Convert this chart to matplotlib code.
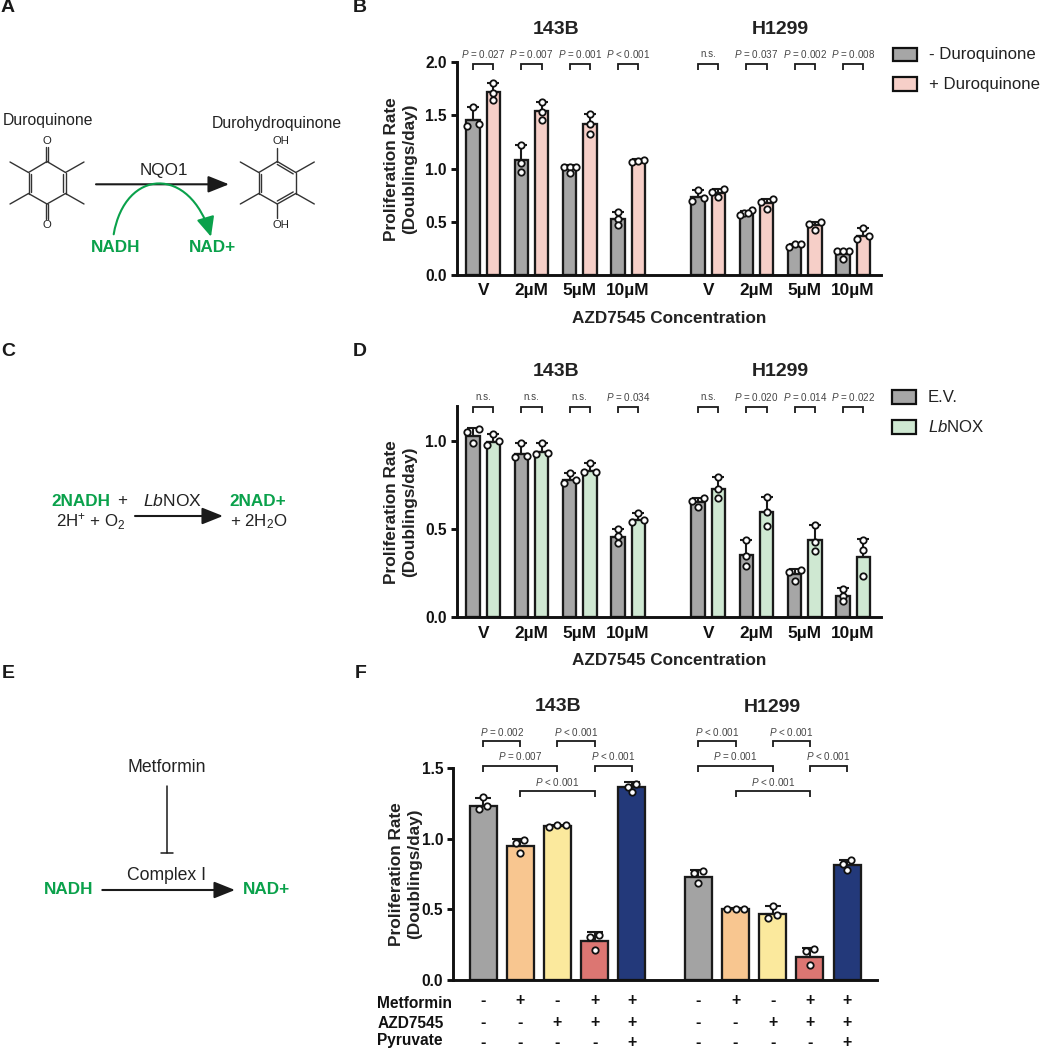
import numpy as np
import matplotlib
matplotlib.use("Agg")
import matplotlib.pyplot as plt
from matplotlib.patches import Rectangle, FancyArrowPatch
from matplotlib.path import Path

plt.rcParams['font.family'] = ['Liberation Sans', 'DejaVu Sans']
plt.rcParams['mathtext.fontset'] = 'custom'
plt.rcParams['mathtext.rm'] = 'Liberation Sans'
plt.rcParams['mathtext.it'] = 'Liberation Sans:italic'
plt.rcParams['mathtext.bf'] = 'Liberation Sans:bold'

W, H = 1041, 1050

# Panel B - duroquinone, bars go minus/plus for each dose
conc_labels = ["V", "2µM", "5µM", "10µM"]
b_143b_means = [1.46, 1.72, 1.08, 1.54, 1.02, 1.42, 0.53, 1.07]
b_143b_tops = [1.58, 1.81, 1.22, 1.63, 1.03, 1.51, 0.59, 1.09]
b_143b_points = [[1.40, 1.42, 1.58], [1.81, 1.71, 1.65], [1.22, 1.05, 0.97], [1.63, 1.53, 1.46],
                  [1.02, 1.02, 1.02, 0.955], [1.51, 1.42, 1.33], [0.59, 0.53, 0.47], [1.06, 1.08, 1.07]]
b_h1299_means = [0.73, 0.77, 0.585, 0.68, 0.275, 0.47, 0.20, 0.37]
b_h1299_tops = [0.80, 0.81, 0.60, 0.71, 0.29, 0.50, 0.23, 0.44]
b_h1299_points = [[0.80, 0.70, 0.72], [0.81, 0.78, 0.73], [0.61, 0.585, 0.585, 0.565], [0.71, 0.69, 0.62],
                  [0.26, 0.29, 0.29], [0.50, 0.48, 0.42], [0.23, 0.225, 0.225, 0.15], [0.44, 0.34, 0.37]]
b_143b_p = ["P = 0.027", "P = 0.007", "P = 0.001", "P < 0.001"]
b_h1299_p = ["n.s.", "P = 0.037", "P = 0.002", "P = 0.008"]

# Panel D - LbNOX
d_143b_means = [1.03, 0.995, 0.93, 0.94, 0.78, 0.83, 0.455, 0.555]
d_143b_tops = [1.075, 1.04, 0.99, 0.99, 0.82, 0.875, 0.50, 0.595]
d_143b_points = [[1.07, 1.05, 0.99], [1.04, 0.98, 1.00], [0.99, 0.91, 0.915], [0.99, 0.935, 0.93],
                 [0.82, 0.765, 0.78], [0.875, 0.825, 0.825], [0.50, 0.46, 0.42], [0.595, 0.54, 0.55]]
d_h1299_means = [0.655, 0.73, 0.355, 0.60, 0.245, 0.44, 0.12, 0.345]
d_h1299_tops = [0.68, 0.795, 0.44, 0.685, 0.275, 0.525, 0.165, 0.445]
d_h1299_points = [[0.675, 0.66, 0.625], [0.795, 0.73, 0.675], [0.44, 0.35, 0.29], [0.685, 0.60, 0.52],
                  [0.27, 0.26, 0.205], [0.525, 0.43, 0.375], [0.16, 0.12, 0.09], [0.44, 0.38, 0.235]]
d_143b_p = ["n.s.", "n.s.", "n.s.", "P = 0.034"]
d_h1299_p = ["n.s.", "P = 0.020", "P = 0.014", "P = 0.022"]

# Panel F - metformin / AZD7545 / pyruvate
f_143b_means = [1.236, 0.95, 1.09, 0.277, 1.364]
f_143b_tops = [1.29, 1.00, 1.10, 0.338, 1.40]
f_143b_points = [[1.30, 1.21, 1.23], [0.993, 0.97, 0.90], [1.085, 1.10, 1.10], [0.32, 0.305, 0.21], [1.39, 1.37, 1.33]]
f_h1299_means = [0.733, 0.50, 0.47, 0.165, 0.813]
f_h1299_tops = [0.78, 0.51, 0.525, 0.23, 0.85]
f_h1299_points = [[0.77, 0.76, 0.69], [0.50, 0.505, 0.505], [0.525, 0.44, 0.46], [0.22, 0.205, 0.105], [0.85, 0.82, 0.78]]
f_143b_p = ["P = 0.002", "P < 0.001", "P = 0.007", "P < 0.001", "P < 0.001"]
f_h1299_p = ["P < 0.001", "P < 0.001", "P = 0.001", "P < 0.001", "P < 0.001"]
f_row_names = ["Metformin", "AZD7545", "Pyruvate"]
f_rows = [["-", "+", "-", "+", "+"], ["-", "-", "+", "+", "+"], ["-", "-", "-", "-", "+"]]

GREY = "#a6a6a6"
PINK = "#f6cfc8"
MINT = "#cfe8d2"
F_COLORS = ["#a3a3a3", "#f8c690", "#fbe99d", "#dc7672", "#23397a"]
EDGE = "#1a1a1a"
GREEN = "#0aa14b"
TXT = "#222222"

fig = plt.figure(figsize=(W / 100, H / 100), dpi=100)


# axes placed by pixel box, x data runs in pixels so bars line up with the brackets
def px_axes(left, right, top, bottom, ymax, yticks):
    ax = fig.add_axes([left / W, 1 - bottom / H, (right - left) / W, (bottom - top) / H])
    ax.set_xlim(left, right)
    ax.set_ylim(0, ymax)
    ax.patch.set_visible(False)
    for s in ["top", "right"]:
        ax.spines[s].set_visible(False)
    for s in ["left", "bottom"]:
        ax.spines[s].set_linewidth(2.1)
        ax.spines[s].set_color("#111111")
    ax.set_yticks(yticks)
    ax.set_yticklabels([f"{t:.1f}" for t in yticks], fontsize=11.2, fontweight="bold", color="#111111")
    ax.tick_params(axis="y", length=4.6, width=2.1, pad=2.5, color="#111111")
    ax.tick_params(axis="x", length=0, pad=6)
    ax.set_ylabel("Proliferation Rate\n(Doublings/day)", fontsize=12.4, fontweight="bold",
                  color="#222222", linespacing=1.28)
    return ax


# points close in height get spread sideways like the prism swarm
def swarm_offsets(values, px_per_unit, pair, spread):
    values = np.asarray(values)
    order = np.argsort(values)
    offs = np.zeros(len(values))
    groups = [[order[0]]]
    for i in order[1:]:
        if (values[i] - values[groups[-1][-1]]) * px_per_unit < 5:
            groups[-1].append(i)
        else:
            groups.append([i])
    for g in groups:
        if len(g) == 2:
            offs[g] = [-pair, pair]
        elif len(g) > 2:
            offs[g] = np.linspace(-spread, spread, len(g))
    return offs


def draw_bars(ax, xs, means, tops, points, colors, width, capsize, pair, spread):
    box = ax.get_position()
    px_per_unit = box.height * H / ax.get_ylim()[1]
    ax.bar(xs, means, width=width, color=colors, edgecolor=EDGE, linewidth=1.65, zorder=2)
    for x, m, t, pts in zip(xs, means, tops, points):
        ax.errorbar([x], [m], yerr=[[0], [max(t - m, 0)]], fmt="none", ecolor=EDGE,
                    elinewidth=1.5, capsize=capsize, capthick=1.5, zorder=3)
        ax.plot(x + swarm_offsets(pts, px_per_unit, pair, spread), pts, "o", ms=4.6, mfc="white",
                mec="#111111", mew=1.3, ls="none", zorder=4, clip_on=False)


def pair_x(start):
    step, gap = 48.3, 20.4
    return [start + i * step + k * gap for i in range(4) for k in range(2)]


over = fig.add_axes([0, 0, 1, 1], zorder=10)
over.set_xlim(0, W)
over.set_ylim(H, 0)
over.axis("off")


def label(x, y, s, size=11.3, color=TXT, weight="normal", ha="center", va="center", **kw):
    return over.text(x, y, s, fontsize=size, color=color, fontweight=weight, ha=ha, va=va, **kw)


def p_text(s):
    return s.replace("P", r"$\mathit{P}$") if s.startswith("P") else s


def bracket(x0, x1, y, text, text_y):
    over.plot([x0, x0, x1, x1], [y + 6, y, y, y + 6], color="#1a1a1a", lw=1.3,
              solid_joinstyle="miter", solid_capstyle="butt")
    label((x0 + x1) / 2, text_y, p_text(text), size=7.1, color="#444444")


def line(xs, ys, lw=1.0, color="#333333"):
    over.plot(xs, ys, color=color, lw=lw, solid_capstyle="round")


def arrow(x0, x1, y, lw=1.5):
    over.add_patch(FancyArrowPatch((x0, y), (x1, y), arrowstyle="-|>,head_length=0.75,head_width=0.3",
                                   mutation_scale=17, lw=lw, color="#1a1a1a", shrinkA=0, shrinkB=0))


# --- panel B
ax_b = px_axes(456.7, 881, 62.3, 275, 2.0, [0.0, 0.5, 1.0, 1.5, 2.0])
b_143b_x, b_h1299_x = pair_x(473), pair_x(698)
draw_bars(ax_b, b_143b_x, b_143b_means, b_143b_tops, b_143b_points, [GREY, PINK] * 4, 13.5, 4.3, 6, 6)
draw_bars(ax_b, b_h1299_x, b_h1299_means, b_h1299_tops, b_h1299_points, [GREY, PINK] * 4, 13.5, 4.3, 6, 6)

# --- panel D
ax_d = px_axes(456.7, 881, 406, 617.3, 1.2, [0.0, 0.5, 1.0])
d_143b_x, d_h1299_x = pair_x(473), pair_x(698)
draw_bars(ax_d, d_143b_x, d_143b_means, d_143b_tops, d_143b_points, [GREY, MINT] * 4, 13.5, 4.3, 6, 6)
draw_bars(ax_d, d_h1299_x, d_h1299_means, d_h1299_tops, d_h1299_points, [GREY, MINT] * 4, 13.5, 4.3, 6, 6)

for ax, xs_a, xs_b, p_a, p_b, br_y, txt_y, title_y in [
        (ax_b, b_143b_x, b_h1299_x, b_143b_p, b_h1299_p, 64, 53.7, 29),
        (ax_d, d_143b_x, d_h1299_x, d_143b_p, d_h1299_p, 406.5, 396.7, 371)]:
    centers = [np.mean(xs_a[i:i + 2]) for i in range(0, 8, 2)] + [np.mean(xs_b[i:i + 2]) for i in range(0, 8, 2)]
    ax.set_xticks(centers)
    ax.set_xticklabels(conc_labels * 2, fontsize=12.4, fontweight="bold", color="#111111")
    ax.set_xlabel("AZD7545 Concentration", fontsize=12.3, fontweight="bold", color="#222222")
    ax.xaxis.set_label_coords((669 - 456.7) / (881 - 456.7), -0.168)
    ax.yaxis.set_label_coords(-0.0936, 0.5)
    for i, t in enumerate(p_a):
        bracket(xs_a[2 * i], xs_a[2 * i + 1], br_y, t, txt_y)
    for i, t in enumerate(p_b):
        bracket(xs_b[2 * i], xs_b[2 * i + 1], br_y, t, txt_y)
    label(np.mean(xs_a), title_y, "143B", size=14, weight="bold")
    label(np.mean(xs_b), title_y, "H1299", size=14, weight="bold")

# --- panel F
ax_f = px_axes(453, 877, 768.3, 980, 1.5, [0.0, 0.5, 1.0, 1.5])
f_143b_x = [483 + i * 37.2 for i in range(5)]
f_h1299_x = [698.3 + i * 37.2 for i in range(5)]
draw_bars(ax_f, f_143b_x, f_143b_means, f_143b_tops, f_143b_points, F_COLORS, 27, 5.8, 4.2, 8.6)
draw_bars(ax_f, f_h1299_x, f_h1299_means, f_h1299_tops, f_h1299_points, F_COLORS, 27, 5.8, 4.2, 8.6)
ax_f.set_xticks([])
ax_f.yaxis.set_label_coords(-0.073, 0.5)
label(np.mean(f_143b_x) + 0.5, 706.7, "143B", size=14, weight="bold")
label(np.mean(f_h1299_x), 707, "H1299", size=14, weight="bold")

for xs, ptxt in [(f_143b_x, f_143b_p), (f_h1299_x, f_h1299_p)]:
    bracket(xs[0], xs[1], 741, ptxt[0], 731.7)
    bracket(xs[2], xs[3], 741, ptxt[1], 731.7)
    bracket(xs[0], xs[2], 765.7, ptxt[2], 756)
    bracket(xs[3], xs[4], 765.7, ptxt[3], 756)
    bracket(xs[1], xs[3], 790.7, ptxt[4], 781.7)

for name, y_name, y_row, row in zip(f_row_names, [1004, 1023, 1041], [1001, 1022, 1043], f_rows):
    label(377.3, y_name, name, size=11.2, weight="bold", ha="left", color="#111111")
    for xs in (f_143b_x, f_h1299_x):
        for x, sign in zip(xs, row):
            label(x, y_row, sign, size=11.5, weight="bold", color="#111111")

# --- legends
for y, c, txt, tx in [(47.7, GREY, "- Duroquinone", 929), (77, PINK, "+ Duroquinone", 929)]:
    over.add_patch(Rectangle((892.5, y), 24, 13.5, fc=c, ec="#111111", lw=1.6))
    label(tx, y + 7, txt, size=12.1, ha="left")
for y, c, txt in [(390, GREY, "E.V."), (420, MINT, r"$\mathit{Lb}$NOX")]:
    over.add_patch(Rectangle((892, y), 23.5, 13.5, fc=c, ec="#111111", lw=1.6))
    label(927.7, y + 7, txt, size=12.1, ha="left")

# --- panel letters
for s, x, y in [("A", 1, 8), ("B", 353, 8), ("C", 1, 352), ("D", 353, 352), ("E", 2, 674), ("F", 355, 674)]:
    label(x, y, s, size=14, weight="bold", ha="left", color="#1a1a1a")


# --- panel A schematic
def ring(cx, cy, double_edges):
    vx = np.array([0, 18.5, 18.5, 0, -18.5, -18.5]) + cx
    vy = np.array([-21, -10, 11, 21.5, 11, -10]) + cy
    for i in range(6):
        j = (i + 1) % 6
        line([vx[i], vx[j]], [vy[i], vy[j]])
        if i in double_edges:
            # short inner stroke toward the ring centre
            mx0 = vx[i] + (cx - vx[i]) * 0.14
            my0 = vy[i] + (cy - vy[i]) * 0.14
            mx1 = vx[j] + (cx - vx[j]) * 0.14
            my1 = vy[j] + (cy - vy[j]) * 0.14
            line([mx0, mx1], [my0, my1])
    for i, dx, dy in [(1, 18.5, -10.5), (2, 18.5, 10.5), (4, -18.5, 10.5), (5, -18.5, -10.5)]:
        line([vx[i], vx[i] + dx], [vy[i], vy[i] + dy])


cx_q, cx_h, cy = 47, 277.3, 182.5
ring(cx_q, cy, [1, 4])
line([cx_q - 1.2, cx_q - 1.2], [cy - 21, cy - 36])
line([cx_q + 1.2, cx_q + 1.2], [cy - 21, cy - 36])
line([cx_q - 1.2, cx_q - 1.2], [cy + 21.5, cy + 36])
line([cx_q + 1.2, cx_q + 1.2], [cy + 21.5, cy + 36])
label(cx_q, 140.7, "O", size=8.2)
label(cx_q, 225.5, "O", size=8.2)
ring(cx_h, cy, [0, 2, 4])
line([cx_h, cx_h], [cy - 21, cy - 35])
line([cx_h, cx_h], [cy + 21.5, cy + 35])
label(cx_h + 3.5, 140.7, "OH", size=8.2)
label(cx_h + 3.5, 225, "OH", size=8.2)

label(47.7, 121, "Duroquinone")
label(277, 123.3, "Durohydroquinone")
label(164.3, 171, "NQO1", size=12.3)
arrow(96, 229, 184.3)
over.add_patch(FancyArrowPatch(
    path=Path([(113.7, 234.3), (125, 168), (190, 165), (211, 236.7)],
              [Path.MOVETO, Path.CURVE4, Path.CURVE4, Path.CURVE4]),
    arrowstyle="-|>,head_length=0.7,head_width=0.32", mutation_scale=17, lw=1.5, color=GREEN))
label(116, 247, "NADH", size=12.3, color=GREEN, weight="bold")
label(212.7, 247, "NAD+", size=12.3, color=GREEN, weight="bold")

# --- panel C schematic
label(51, 501, "2NADH", size=12.3, color=GREEN, weight="bold", ha="left")
label(117, 501, "+", size=12.2, ha="left")
label(56, 522, r"2H$^{+}$ + O$_{2}$", size=12.2, ha="left")
label(172.3, 501, r"$\mathit{Lb}$NOX", size=12.6)
arrow(135, 223, 516)
label(229.3, 501, "2NAD+", size=12.3, color=GREEN, weight="bold", ha="left")
label(230, 522, r"+ 2H$_{2}$O", size=12.2, ha="left")

# --- panel E schematic
label(166.7, 768, "Metformin", size=12.7)
line([166.7, 166.7], [786, 852.7], lw=1.1, color="#1a1a1a")
line([160.7, 172.7], [852.7, 852.7], lw=1.1, color="#1a1a1a")
label(166.7, 875, "Complex I", size=12.7)
arrow(102.3, 235, 890)
label(69, 889.5, "NADH", size=12.3, color=GREEN, weight="bold")
label(266.7, 889.5, "NAD+", size=12.3, color=GREEN, weight="bold")

plt.savefig("out.png", dpi=100)
